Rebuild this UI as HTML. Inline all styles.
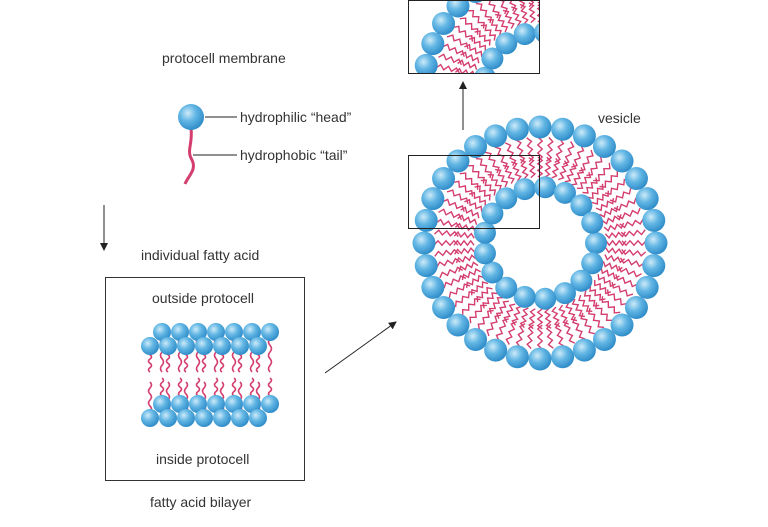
<!DOCTYPE html>
<html><head><meta charset="utf-8"><style>
body{margin:0;background:#fff;}
svg text{font-family:"Liberation Sans",sans-serif;font-size:14px;fill:#333;}
</style></head><body>
<svg id="s" width="768" height="522" viewBox="0 0 768 522" xmlns="http://www.w3.org/2000/svg">
<defs>
<radialGradient id="g" cx="0.38" cy="0.35" r="0.7">
<stop offset="0" stop-color="#cdeaf8"/><stop offset="0.45" stop-color="#62b6e4"/><stop offset="1" stop-color="#2a88c6"/>
</radialGradient>
<clipPath id="cp"><rect x="409" y="1" width="130" height="72"/></clipPath>
<marker id="ar" markerWidth="8" markerHeight="8" refX="7" refY="4" orient="auto" markerUnits="userSpaceOnUse"><path d="M0,0 L8,4 L0,8 z" fill="#222"/></marker>
</defs>
<rect width="768" height="522" fill="#fff"/>
<text x="162" y="63">protocell membrane</text>
<line x1="205" y1="117" x2="237" y2="117" stroke="#222"/>
<line x1="193" y1="155" x2="237" y2="155" stroke="#222"/>
<path d="M191,128 C193,145 186,150 192,160 C197,170 188,176 185,184" stroke="#d43e6e" stroke-width="3" fill="none"/>
<circle cx="191" cy="117" r="13" fill="url(#g)"/>
<text x="240" y="122">hydrophilic “head”</text>
<text x="240" y="160">hydrophobic “tail”</text>
<line x1="104" y1="205" x2="104" y2="250" stroke="#222" marker-end="url(#ar)"/>
<text x="141" y="260">individual fatty acid</text>
<rect x="105.5" y="277.5" width="199" height="203" fill="none" stroke="#333"/>
<text x="152" y="303">outside protocell</text>
<text x="156" y="464">inside protocell</text>
<text x="150" y="507">fatty acid bilayer</text>
<g id="bil"></g>
<line x1="325" y1="373" x2="396" y2="322" stroke="#222" marker-end="url(#ar)"/>
<g id="ves"></g>
<text x="598" y="123">vesicle</text>
<rect x="408.5" y="155.5" width="131" height="73" fill="none" stroke="#222"/>
<line x1="463" y1="130" x2="463" y2="82" stroke="#222" marker-end="url(#ar)"/>
<g clip-path="url(#cp)"><use href="#ves" transform="translate(0,-155)"/></g>
<rect x="408.5" y="0.5" width="131" height="73" fill="none" stroke="#222"/>
</svg>
<script>
const NS="http://www.w3.org/2000/svg";
function el(p,t,a){const e=document.createElementNS(NS,t);for(const k in a)e.setAttribute(k,a[k]);p.appendChild(e);return e;}
const v=document.getElementById('ves');
const cx=540,cy=243;
// tails
for(let i=0;i<60;i++){const a=i/60*2*Math.PI;
 for(const [r1,r2] of [[106,82],[66,86]]){
  const pts=[];for(let k=0;k<=6;k++){const r=r1+(r2-r1)*k/6;const w=(k%2?1:-1)*2.2;const aa=a+w/r;pts.push((cx+r*Math.cos(aa)).toFixed(1)+','+(cy+r*Math.sin(aa)).toFixed(1));}
  el(v,'polyline',{points:pts.join(' '),stroke:'#d43e6e','stroke-width':1.4,fill:'none'});
 }}
for(let i=0;i<32;i++){const a=i/32*2*Math.PI;el(v,'circle',{cx:cx+116*Math.cos(a),cy:cy+116*Math.sin(a),r:11.5,fill:'url(#g)'});}
for(let i=0;i<17;i++){const a=i/17*2*Math.PI;el(v,'circle',{cx:cx+56*Math.cos(a),cy:cy+56*Math.sin(a),r:11,fill:'url(#g)'});}
const b=document.getElementById('bil');
function tail(x,y1,y2){let d='M'+x+','+y1;const n=6;for(let k=1;k<=n;k++){d+=' Q'+(x+(k%2?3:-3))+','+(y1+(y2-y1)*(k-0.5)/n)+' '+x+','+(y1+(y2-y1)*k/n);}el(b,'path',{d:d,stroke:'#d43e6e','stroke-width':1.6,fill:'none'});}
for(let i=0;i<7;i++){tail(162+i*18,332,372);tail(150+i*18,346,372);tail(162+i*18,378,405);tail(150+i*18,382,418);}
for(let i=0;i<7;i++)el(b,'circle',{cx:162+i*18,cy:404,r:9,fill:'url(#g)'});
for(let i=0;i<7;i++)el(b,'circle',{cx:150+i*18,cy:418,r:9,fill:'url(#g)'});
for(let i=0;i<7;i++)el(b,'circle',{cx:162+i*18,cy:332,r:9,fill:'url(#g)'});
for(let i=0;i<7;i++)el(b,'circle',{cx:150+i*18,cy:346,r:9,fill:'url(#g)'});
</script>
</body></html>
